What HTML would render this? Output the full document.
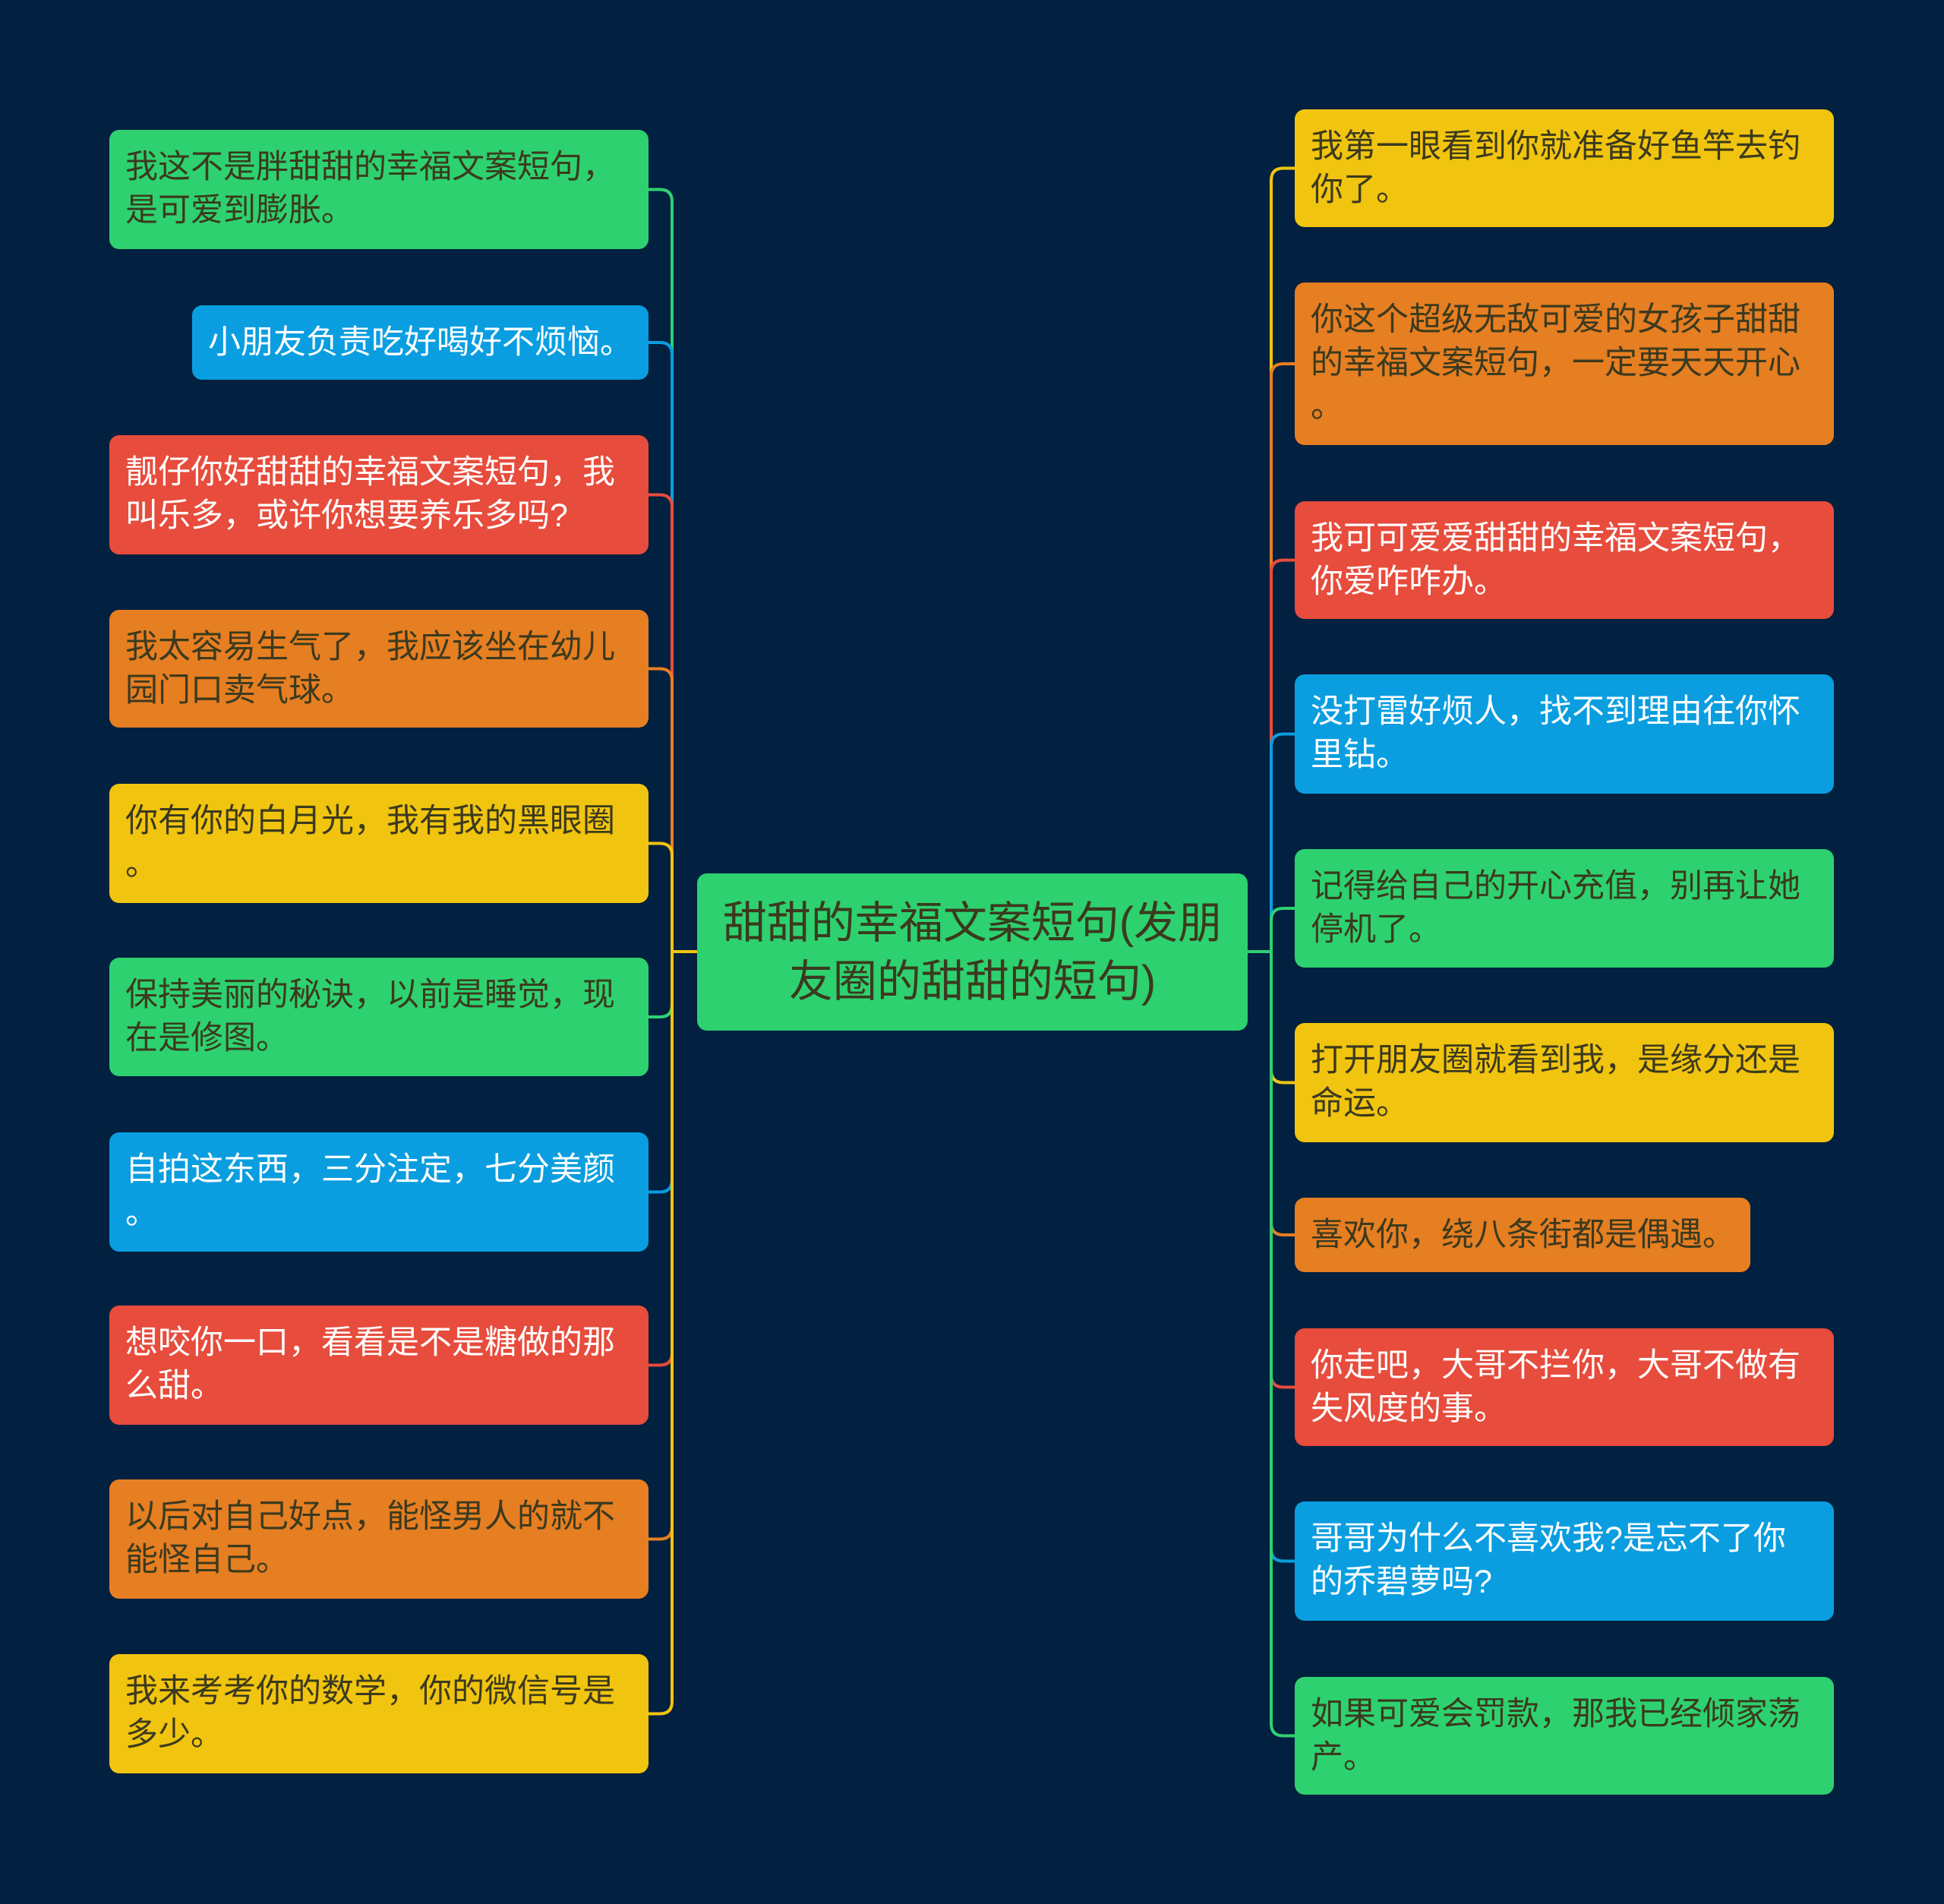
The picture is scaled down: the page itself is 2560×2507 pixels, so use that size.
<!DOCTYPE html>
<html><head><meta charset="utf-8"><style>
body{margin:0;width:2560px;height:2507px;background:#02203f;position:relative;overflow:hidden;font-family:"Liberation Sans","Noto Sans CJK SC",sans-serif;}
.n{position:absolute;box-sizing:border-box;border-radius:13px;padding:21px 21px;font-size:43px;line-height:57px;color:#3b3a1e;white-space:nowrap;overflow:hidden;}
.g{background:#2ed16f}.b{background:#0a9ee0;color:#fff}.r{background:#e74c3c;color:#fff}.o{background:#e67e22}.y{background:#f1c40f}
.c{position:absolute;left:918px;top:1150px;width:725px;height:207px;border-radius:13px;background:#2ed16f;color:#3b3a1e;font-size:58px;line-height:77px;text-align:center;display:flex;align-items:center;justify-content:center;box-sizing:border-box;white-space:nowrap;}
svg{position:absolute;left:0;top:0}
</style></head><body>
<svg width="2560" height="2507" fill="none" stroke-width="4">
<path d="M854 249.5H869Q885 249.5 885 265.5V1253H918" stroke="#2ed16f"/>
<path d="M854 451H869Q885 451 885 467V1253H918" stroke="#0a9ee0"/>
<path d="M854 651.5H869Q885 651.5 885 667.5V1253H918" stroke="#e74c3c"/>
<path d="M854 880.5H869Q885 880.5 885 896.5V1253H918" stroke="#e67e22"/>
<path d="M854 1110.5H869Q885 1110.5 885 1126.5V1253H918" stroke="#f1c40f"/>
<path d="M854 1339H869Q885 1339 885 1323V1253H918" stroke="#2ed16f"/>
<path d="M854 1569.5H869Q885 1569.5 885 1553.5V1253H918" stroke="#0a9ee0"/>
<path d="M854 1797.5H869Q885 1797.5 885 1781.5V1253H918" stroke="#e74c3c"/>
<path d="M854 2026.5H869Q885 2026.5 885 2010.5V1253H918" stroke="#e67e22"/>
<path d="M854 2256.5H869Q885 2256.5 885 2240.5V1253H918" stroke="#f1c40f"/>
<path d="M1705 221.5H1690Q1674 221.5 1674 237.5V1253H1643" stroke="#f1c40f"/>
<path d="M1705 479H1690Q1674 479 1674 495V1253H1643" stroke="#e67e22"/>
<path d="M1705 737.5H1690Q1674 737.5 1674 753.5V1253H1643" stroke="#e74c3c"/>
<path d="M1705 966.5H1690Q1674 966.5 1674 982.5V1253H1643" stroke="#0a9ee0"/>
<path d="M1705 1196H1690Q1674 1196 1674 1212V1253H1643" stroke="#2ed16f"/>
<path d="M1705 1425.5H1690Q1674 1425.5 1674 1409.5V1253H1643" stroke="#f1c40f"/>
<path d="M1705 1626H1690Q1674 1626 1674 1610V1253H1643" stroke="#e67e22"/>
<path d="M1705 1826.5H1690Q1674 1826.5 1674 1810.5V1253H1643" stroke="#e74c3c"/>
<path d="M1705 2055.5H1690Q1674 2055.5 1674 2039.5V1253H1643" stroke="#0a9ee0"/>
<path d="M1705 2285.5H1690Q1674 2285.5 1674 2269.5V1253H1643" stroke="#2ed16f"/>
</svg>
<div class="n g" style="left:144px;top:171px;width:710px;height:157px">我这不是胖甜甜的幸福文案短句，<br>是可爱到膨胀。</div>
<div class="n b" style="left:253px;top:402px;width:601px;height:98px">小朋友负责吃好喝好不烦恼。</div>
<div class="n r" style="left:144px;top:573px;width:710px;height:157px">靓仔你好甜甜的幸福文案短句，我<br>叫乐多，或许你想要养乐多吗?</div>
<div class="n o" style="left:144px;top:803px;width:710px;height:155px">我太容易生气了，我应该坐在幼儿<br>园门口卖气球。</div>
<div class="n y" style="left:144px;top:1032px;width:710px;height:157px">你有你的白月光，我有我的黑眼圈<br>。</div>
<div class="n g" style="left:144px;top:1261px;width:710px;height:156px">保持美丽的秘诀，以前是睡觉，现<br>在是修图。</div>
<div class="n b" style="left:144px;top:1491px;width:710px;height:157px">自拍这东西，三分注定，七分美颜<br>。</div>
<div class="n r" style="left:144px;top:1719px;width:710px;height:157px">想咬你一口，看看是不是糖做的那<br>么甜。</div>
<div class="n o" style="left:144px;top:1948px;width:710px;height:157px">以后对自己好点，能怪男人的就不<br>能怪自己。</div>
<div class="n y" style="left:144px;top:2178px;width:710px;height:157px">我来考考你的数学，你的微信号是<br>多少。</div>
<div class="c">甜甜的幸福文案短句(发朋<br>友圈的甜甜的短句)</div>
<div class="n y" style="left:1705px;top:144px;width:710px;height:155px">我第一眼看到你就准备好鱼竿去钓<br>你了。</div>
<div class="n o" style="left:1705px;top:372px;width:710px;height:214px">你这个超级无敌可爱的女孩子甜甜<br>的幸福文案短句，一定要天天开心<br>。</div>
<div class="n r" style="left:1705px;top:660px;width:710px;height:155px">我可可爱爱甜甜的幸福文案短句，<br>你爱咋咋办。</div>
<div class="n b" style="left:1705px;top:888px;width:710px;height:157px">没打雷好烦人，找不到理由往你怀<br>里钻。</div>
<div class="n g" style="left:1705px;top:1118px;width:710px;height:156px">记得给自己的开心充值，别再让她<br>停机了。</div>
<div class="n y" style="left:1705px;top:1347px;width:710px;height:157px">打开朋友圈就看到我，是缘分还是<br>命运。</div>
<div class="n o" style="left:1705px;top:1577px;width:600px;height:98px">喜欢你，绕八条街都是偶遇。</div>
<div class="n r" style="left:1705px;top:1749px;width:710px;height:155px">你走吧，大哥不拦你，大哥不做有<br>失风度的事。</div>
<div class="n b" style="left:1705px;top:1977px;width:710px;height:157px">哥哥为什么不喜欢我?是忘不了你<br>的乔碧萝吗?</div>
<div class="n g" style="left:1705px;top:2208px;width:710px;height:155px">如果可爱会罚款，那我已经倾家荡<br>产。</div>
</body></html>
